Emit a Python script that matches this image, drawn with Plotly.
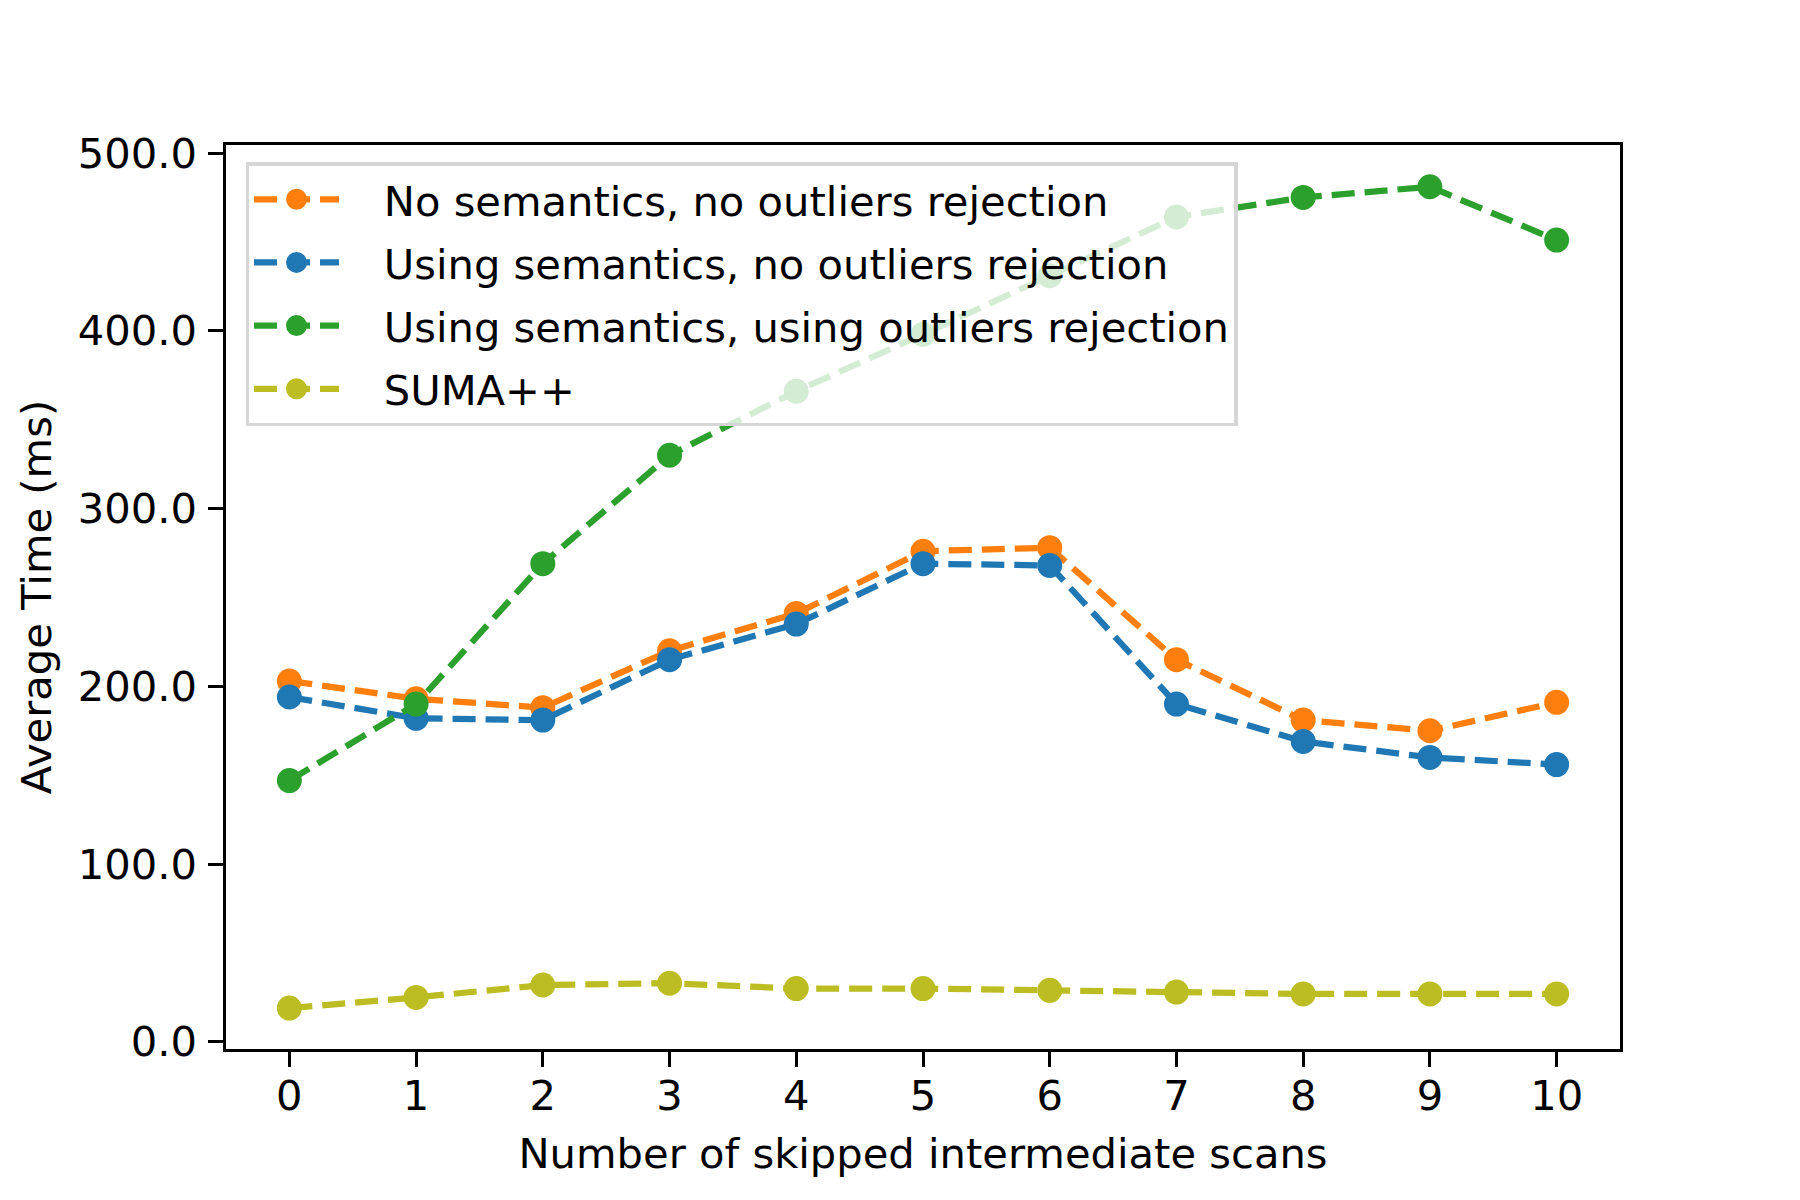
import plotly.graph_objects as go

# skipped scans on x, average time in ms on y
skipped = [0, 1, 2, 3, 4, 5, 6, 7, 8, 9, 10]

no_sem_no_rej = [203, 193, 188, 220, 241, 276, 278, 215, 181, 175, 191]
sem_no_rej = [194, 182, 181, 215, 235, 269, 268, 190, 169, 160, 156]
sem_rej = [147, 190, 269, 330, 366, 398, 431, 464, 475, 481, 451]
suma = [19, 25, 32, 33, 30, 30, 29, 28, 27, 27, 27]

names = [
    "No semantics, no outliers rejection",
    "Using semantics, no outliers rejection",
    "Using semantics, using outliers rejection",
    "SUMA++",
]
series = [no_sem_no_rej, sem_no_rej, sem_rej, suma]
colors = ["#ff7f0e", "#1f77b4", "#2ca02c", "#bcbd22"]

y_ticks = [0, 100, 200, 300, 400, 500]

FONT = "DejaVu Sans"
FS = 41.67  # 10pt at 300 dpi
LW = 6.25
PAD = "\u00a0\u00a0\u00a0"  # gap between legend handle and text

fig = go.Figure()
for i in range(len(series)):
    # marker outline in the same colour, so the legend dot is not too small
    fig.add_trace(go.Scatter(
        x=skipped, y=series[i], name=PAD + names[i],
        mode="lines+markers",
        legendgroup="g%d" % i,
        line=dict(color=colors[i], width=LW, dash="23px,10px"),
        marker=dict(color=colors[i], size=20,
                    line=dict(color=colors[i], width=5)),
    ))

axis_common = dict(
    showline=True, linecolor="black", linewidth=3.33, mirror=True,
    ticks="outside", ticklen=14.6, tickwidth=3.33, tickcolor="black",
    showgrid=False, zeroline=False,
    tickfont=dict(family=FONT, size=FS, color="black"),
)

fig.update_layout(
    width=1800, height=1200,
    margin=dict(l=218, r=188, t=137, b=159, pad=0),
    plot_bgcolor="white", paper_bgcolor="white",
    font=dict(family=FONT, size=FS, color="black"),
    xaxis=dict(range=[-0.5, 10.5], tickvals=skipped,
               title=dict(text="Number of skipped intermediate scans",
                          font=dict(size=FS), standoff=21),
               ticklabelstandoff=-7, **axis_common),
    yaxis=dict(range=[-4, 504.5], tickvals=y_ticks, tickformat=".1f",
               title=dict(text="Average Time (ms)", font=dict(size=FS), standoff=14),
               ticklabelstandoff=3, **axis_common),
    legend=dict(
        x=0.014, y=0.981, xanchor="left", yanchor="top",
        bgcolor="rgba(255,255,255,0.8)", bordercolor="#d6d6d6", borderwidth=3.5,
        font=dict(family=FONT, size=FS, color="black"),
        itemwidth=85, tracegroupgap=6,
    ),
    showlegend=True,
)

fig.write_html("out.html")
